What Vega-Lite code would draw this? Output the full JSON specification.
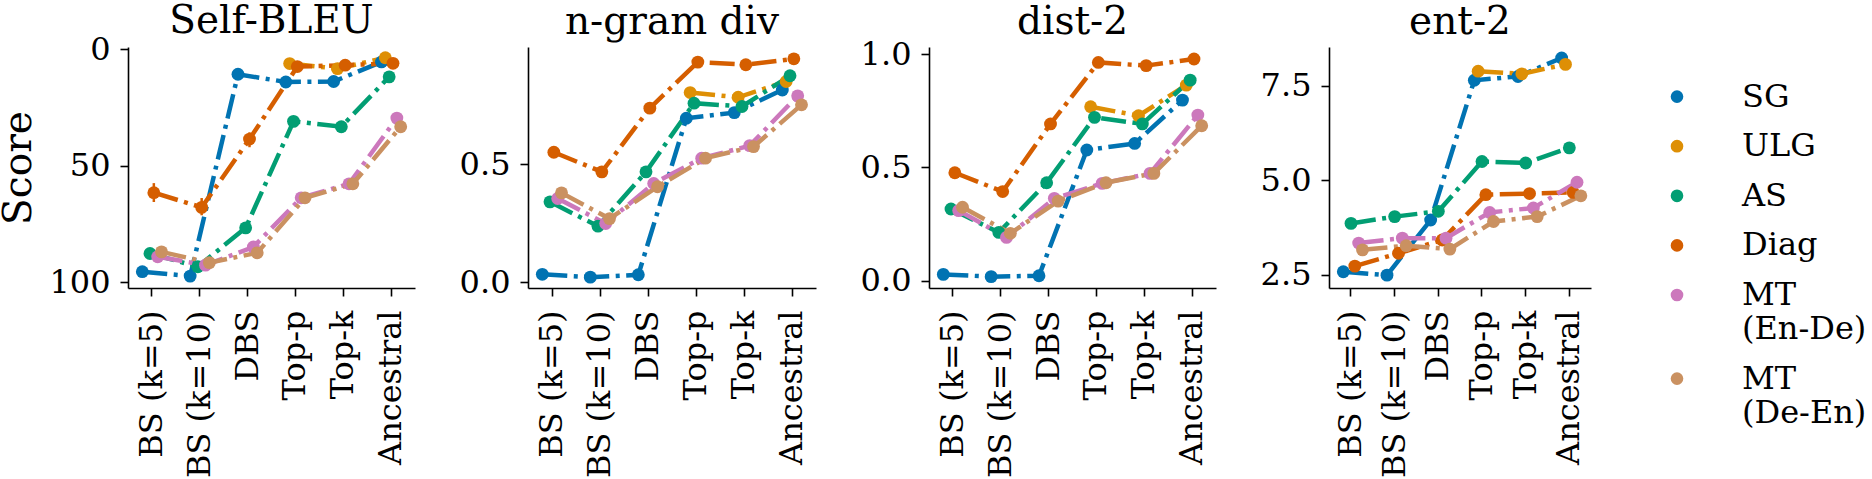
{
  "$schema": "https://vega.github.io/schema/vega-lite/v6.json",
  "autosize": {"type": "none"},
  "padding": {"left": 128, "top": 47, "right": 1744, "bottom": 432},
  "background": "white",
  "config": {
    "view": {"stroke": null},
    "font": "DejaVu Serif",
    "axis": {"labelFont": "DejaVu Serif", "labelFontSize": 32, "labelColor": "black", "domainColor": "black", "tickColor": "black", "domainWidth": 1.6, "tickWidth": 1.6, "tickSize": 8, "grid": false, "titleFont": "DejaVu Serif", "titleFontWeight": "normal", "titleColor": "black", "titleFontSize": 39, "labelPadding": 10},
    "axisX": {"labelAngle": -90, "labelPadding": 14, "title": null},
    "axisY": {"titleAngle": 270, "titlePadding": 10},
    "title": {"font": "DejaVu Serif", "fontSize": 39, "fontWeight": "normal", "offset": 5, "baseline": "alphabetic", "color": "black"},
    "line": {"strokeWidth": 4.5, "strokeDash": [25, 6.5, 4, 6.5], "strokeCap": "butt"},
    "point": {"filled": true, "opacity": 1, "size": 165},
    "legend": {"orient": "none", "legendX": 1533, "legendY": 33.6, "title": null, "labelFont": "DejaVu Serif", "labelFontSize": 32, "labelColor": "black", "labelLineHeight": 38, "symbolType": "circle", "symbolSize": 160, "symbolStrokeWidth": 0, "labelOffset": 49, "rowPadding": 17.6, "padding": 0}
  },
  "datasets": {
    "main": [
      {"m": "Self-BLEU", "model": "SG", "method": "BS (k=5)", "v": 95.4},
      {"m": "Self-BLEU", "model": "SG", "method": "BS (k=10)", "v": 97.3},
      {"m": "Self-BLEU", "model": "SG", "method": "DBS", "v": 10.7},
      {"m": "Self-BLEU", "model": "SG", "method": "Top-p", "v": 14.0},
      {"m": "Self-BLEU", "model": "SG", "method": "Top-k", "v": 13.8},
      {"m": "Self-BLEU", "model": "SG", "method": "Ancestral", "v": 5.4},
      {"m": "Self-BLEU", "model": "ULG", "method": "Top-p", "v": 6.1},
      {"m": "Self-BLEU", "model": "ULG", "method": "Top-k", "v": 8.3},
      {"m": "Self-BLEU", "model": "ULG", "method": "Ancestral", "v": 3.6},
      {"m": "Self-BLEU", "model": "AS", "method": "BS (k=5)", "v": 87.6},
      {"m": "Self-BLEU", "model": "AS", "method": "BS (k=10)", "v": 93.3},
      {"m": "Self-BLEU", "model": "AS", "method": "DBS", "v": 76.6},
      {"m": "Self-BLEU", "model": "AS", "method": "Top-p", "v": 30.9},
      {"m": "Self-BLEU", "model": "AS", "method": "Top-k", "v": 33.2},
      {"m": "Self-BLEU", "model": "AS", "method": "Ancestral", "v": 11.8},
      {"m": "Self-BLEU", "model": "Diag", "method": "BS (k=5)", "v": 61.5},
      {"m": "Self-BLEU", "model": "Diag", "method": "BS (k=10)", "v": 67.8},
      {"m": "Self-BLEU", "model": "Diag", "method": "DBS", "v": 38.5},
      {"m": "Self-BLEU", "model": "Diag", "method": "Top-p", "v": 7.4},
      {"m": "Self-BLEU", "model": "Diag", "method": "Top-k", "v": 6.8},
      {"m": "Self-BLEU", "model": "Diag", "method": "Ancestral", "v": 6.0},
      {"m": "Self-BLEU", "model": "MT (En-De)", "method": "BS (k=5)", "v": 89.0},
      {"m": "Self-BLEU", "model": "MT (En-De)", "method": "BS (k=10)", "v": 92.6},
      {"m": "Self-BLEU", "model": "MT (En-De)", "method": "DBS", "v": 84.8},
      {"m": "Self-BLEU", "model": "MT (En-De)", "method": "Top-p", "v": 63.7},
      {"m": "Self-BLEU", "model": "MT (En-De)", "method": "Top-k", "v": 57.7},
      {"m": "Self-BLEU", "model": "MT (En-De)", "method": "Ancestral", "v": 29.5},
      {"m": "Self-BLEU", "model": "MT (De-En)", "method": "BS (k=5)", "v": 86.9},
      {"m": "Self-BLEU", "model": "MT (De-En)", "method": "BS (k=10)", "v": 91.5},
      {"m": "Self-BLEU", "model": "MT (De-En)", "method": "DBS", "v": 87.3},
      {"m": "Self-BLEU", "model": "MT (De-En)", "method": "Top-p", "v": 63.7},
      {"m": "Self-BLEU", "model": "MT (De-En)", "method": "Top-k", "v": 57.7},
      {"m": "Self-BLEU", "model": "MT (De-En)", "method": "Ancestral", "v": 33.2},

      {"m": "ngram", "model": "SG", "method": "BS (k=5)", "v": 0.033},
      {"m": "ngram", "model": "SG", "method": "BS (k=10)", "v": 0.021},
      {"m": "ngram", "model": "SG", "method": "DBS", "v": 0.031},
      {"m": "ngram", "model": "SG", "method": "Top-p", "v": 0.694},
      {"m": "ngram", "model": "SG", "method": "Top-k", "v": 0.718},
      {"m": "ngram", "model": "SG", "method": "Ancestral", "v": 0.814},
      {"m": "ngram", "model": "ULG", "method": "Top-p", "v": 0.803},
      {"m": "ngram", "model": "ULG", "method": "Top-k", "v": 0.783},
      {"m": "ngram", "model": "ULG", "method": "Ancestral", "v": 0.85},
      {"m": "ngram", "model": "AS", "method": "BS (k=5)", "v": 0.34},
      {"m": "ngram", "model": "AS", "method": "BS (k=10)", "v": 0.237},
      {"m": "ngram", "model": "AS", "method": "DBS", "v": 0.467},
      {"m": "ngram", "model": "AS", "method": "Top-p", "v": 0.758},
      {"m": "ngram", "model": "AS", "method": "Top-k", "v": 0.744},
      {"m": "ngram", "model": "AS", "method": "Ancestral", "v": 0.874},
      {"m": "ngram", "model": "Diag", "method": "BS (k=5)", "v": 0.55},
      {"m": "ngram", "model": "Diag", "method": "BS (k=10)", "v": 0.467},
      {"m": "ngram", "model": "Diag", "method": "DBS", "v": 0.737},
      {"m": "ngram", "model": "Diag", "method": "Top-p", "v": 0.932},
      {"m": "ngram", "model": "Diag", "method": "Top-k", "v": 0.921},
      {"m": "ngram", "model": "Diag", "method": "Ancestral", "v": 0.946},
      {"m": "ngram", "model": "MT (En-De)", "method": "BS (k=5)", "v": 0.354},
      {"m": "ngram", "model": "MT (En-De)", "method": "BS (k=10)", "v": 0.248},
      {"m": "ngram", "model": "MT (En-De)", "method": "DBS", "v": 0.418},
      {"m": "ngram", "model": "MT (En-De)", "method": "Top-p", "v": 0.525},
      {"m": "ngram", "model": "MT (En-De)", "method": "Top-k", "v": 0.578},
      {"m": "ngram", "model": "MT (En-De)", "method": "Ancestral", "v": 0.789},
      {"m": "ngram", "model": "MT (De-En)", "method": "BS (k=5)", "v": 0.378},
      {"m": "ngram", "model": "MT (De-En)", "method": "BS (k=10)", "v": 0.269},
      {"m": "ngram", "model": "MT (De-En)", "method": "DBS", "v": 0.404},
      {"m": "ngram", "model": "MT (De-En)", "method": "Top-p", "v": 0.525},
      {"m": "ngram", "model": "MT (De-En)", "method": "Top-k", "v": 0.574},
      {"m": "ngram", "model": "MT (De-En)", "method": "Ancestral", "v": 0.751},

      {"m": "dist-2", "model": "SG", "method": "BS (k=5)", "v": 0.029},
      {"m": "dist-2", "model": "SG", "method": "BS (k=10)", "v": 0.019},
      {"m": "dist-2", "model": "SG", "method": "DBS", "v": 0.023},
      {"m": "dist-2", "model": "SG", "method": "Top-p", "v": 0.577},
      {"m": "dist-2", "model": "SG", "method": "Top-k", "v": 0.606},
      {"m": "dist-2", "model": "SG", "method": "Ancestral", "v": 0.797},
      {"m": "dist-2", "model": "ULG", "method": "Top-p", "v": 0.768},
      {"m": "dist-2", "model": "ULG", "method": "Top-k", "v": 0.728},
      {"m": "dist-2", "model": "ULG", "method": "Ancestral", "v": 0.863},
      {"m": "dist-2", "model": "AS", "method": "BS (k=5)", "v": 0.317},
      {"m": "dist-2", "model": "AS", "method": "BS (k=10)", "v": 0.214},
      {"m": "dist-2", "model": "AS", "method": "DBS", "v": 0.433},
      {"m": "dist-2", "model": "AS", "method": "Top-p", "v": 0.721},
      {"m": "dist-2", "model": "AS", "method": "Top-k", "v": 0.692},
      {"m": "dist-2", "model": "AS", "method": "Ancestral", "v": 0.885},
      {"m": "dist-2", "model": "Diag", "method": "BS (k=5)", "v": 0.477},
      {"m": "dist-2", "model": "Diag", "method": "BS (k=10)", "v": 0.394},
      {"m": "dist-2", "model": "Diag", "method": "DBS", "v": 0.692},
      {"m": "dist-2", "model": "Diag", "method": "Top-p", "v": 0.963},
      {"m": "dist-2", "model": "Diag", "method": "Top-k", "v": 0.949},
      {"m": "dist-2", "model": "Diag", "method": "Ancestral", "v": 0.978},
      {"m": "dist-2", "model": "MT (En-De)", "method": "BS (k=5)", "v": 0.31},
      {"m": "dist-2", "model": "MT (En-De)", "method": "BS (k=10)", "v": 0.192},
      {"m": "dist-2", "model": "MT (En-De)", "method": "DBS", "v": 0.364},
      {"m": "dist-2", "model": "MT (En-De)", "method": "Top-p", "v": 0.43},
      {"m": "dist-2", "model": "MT (En-De)", "method": "Top-k", "v": 0.474},
      {"m": "dist-2", "model": "MT (En-De)", "method": "Ancestral", "v": 0.731},
      {"m": "dist-2", "model": "MT (De-En)", "method": "BS (k=5)", "v": 0.325},
      {"m": "dist-2", "model": "MT (De-En)", "method": "BS (k=10)", "v": 0.21},
      {"m": "dist-2", "model": "MT (De-En)", "method": "DBS", "v": 0.352},
      {"m": "dist-2", "model": "MT (De-En)", "method": "Top-p", "v": 0.433},
      {"m": "dist-2", "model": "MT (De-En)", "method": "Top-k", "v": 0.474},
      {"m": "dist-2", "model": "MT (De-En)", "method": "Ancestral", "v": 0.684},

      {"m": "ent-2", "model": "SG", "method": "BS (k=5)", "v": 2.58},
      {"m": "ent-2", "model": "SG", "method": "BS (k=10)", "v": 2.49},
      {"m": "ent-2", "model": "SG", "method": "DBS", "v": 3.95},
      {"m": "ent-2", "model": "SG", "method": "Top-p", "v": 7.65},
      {"m": "ent-2", "model": "SG", "method": "Top-k", "v": 7.75},
      {"m": "ent-2", "model": "SG", "method": "Ancestral", "v": 8.24},
      {"m": "ent-2", "model": "ULG", "method": "Top-p", "v": 7.89},
      {"m": "ent-2", "model": "ULG", "method": "Top-k", "v": 7.82},
      {"m": "ent-2", "model": "ULG", "method": "Ancestral", "v": 8.07},
      {"m": "ent-2", "model": "AS", "method": "BS (k=5)", "v": 3.86},
      {"m": "ent-2", "model": "AS", "method": "BS (k=10)", "v": 4.04},
      {"m": "ent-2", "model": "AS", "method": "DBS", "v": 4.18},
      {"m": "ent-2", "model": "AS", "method": "Top-p", "v": 5.5},
      {"m": "ent-2", "model": "AS", "method": "Top-k", "v": 5.46},
      {"m": "ent-2", "model": "AS", "method": "Ancestral", "v": 5.86},
      {"m": "ent-2", "model": "Diag", "method": "BS (k=5)", "v": 2.73},
      {"m": "ent-2", "model": "Diag", "method": "BS (k=10)", "v": 3.07},
      {"m": "ent-2", "model": "Diag", "method": "DBS", "v": 3.42},
      {"m": "ent-2", "model": "Diag", "method": "Top-p", "v": 4.62},
      {"m": "ent-2", "model": "Diag", "method": "Top-k", "v": 4.65},
      {"m": "ent-2", "model": "Diag", "method": "Ancestral", "v": 4.68},
      {"m": "ent-2", "model": "MT (En-De)", "method": "BS (k=5)", "v": 3.34},
      {"m": "ent-2", "model": "MT (En-De)", "method": "BS (k=10)", "v": 3.47},
      {"m": "ent-2", "model": "MT (En-De)", "method": "DBS", "v": 3.47},
      {"m": "ent-2", "model": "MT (En-De)", "method": "Top-p", "v": 4.15},
      {"m": "ent-2", "model": "MT (En-De)", "method": "Top-k", "v": 4.27},
      {"m": "ent-2", "model": "MT (En-De)", "method": "Ancestral", "v": 4.95},
      {"m": "ent-2", "model": "MT (De-En)", "method": "BS (k=5)", "v": 3.16},
      {"m": "ent-2", "model": "MT (De-En)", "method": "BS (k=10)", "v": 3.27},
      {"m": "ent-2", "model": "MT (De-En)", "method": "DBS", "v": 3.18},
      {"m": "ent-2", "model": "MT (De-En)", "method": "Top-p", "v": 3.91},
      {"m": "ent-2", "model": "MT (De-En)", "method": "Top-k", "v": 4.04},
      {"m": "ent-2", "model": "MT (De-En)", "method": "Ancestral", "v": 4.59}
    ],
    "err": [
      {"m": "Self-BLEU", "model": "Diag", "method": "BS (k=5)", "lo": 57.4, "hi": 65.5},
      {"m": "Self-BLEU", "model": "Diag", "method": "BS (k=10)", "lo": 63.8, "hi": 71.2},
      {"m": "Self-BLEU", "model": "Diag", "method": "DBS", "lo": 35.6, "hi": 42.0},
      {"m": "ngram", "model": "Diag", "method": "BS (k=10)", "lo": 0.447, "hi": 0.487},
      {"m": "dist-2", "model": "Diag", "method": "BS (k=10)", "lo": 0.38, "hi": 0.41}
    ]
  },
  "hconcat": [
    {
      "width": 287, "height": 241, "title": {"text": "Self-BLEU", "dy": 13},
      "layer": [
        {"data": {"name": "main"}, "transform": [{"filter": "datum.m == 'Self-BLEU'"}], "mark": {"type": "line"},
         "encoding": {
           "x": {"field": "method", "type": "nominal", "sort": null, "scale": {"type": "band", "paddingInner": 0, "paddingOuter": 0, "domain": ["BS (k=5)", "BS (k=10)", "DBS", "Top-p", "Top-k", "Ancestral"]}},
           "xOffset": {"field": "model", "type": "nominal", "scale": {"type": "point", "padding": 0, "domain": ["SG", "ULG", "AS", "Diag", "MT (En-De)", "MT (De-En)"], "range": [14.32, 33.52]}},
           "y": {"field": "v", "type": "quantitative", "title": "Score", "scale": {"domain": [-1, 102.4], "reverse": true, "nice": false, "zero": false}, "axis": {"values": [0, 50, 100], "format": "d"}},
           "stroke": {"field": "model", "type": "nominal", "legend": null, "scale": {"domain": ["MT (De-En)", "MT (En-De)", "Diag", "AS", "ULG", "SG"], "range": ["#ca9161", "#cc78bc", "#d55e00", "#029e73", "#de8f05", "#0173b2"]}},
           "order": {"value": null}
         }},
        {"data": {"name": "err"}, "transform": [{"filter": "datum.m == 'Self-BLEU'"}], "mark": {"type": "rule", "strokeWidth": 2.5},
         "encoding": {
           "x": {"field": "method", "type": "nominal", "sort": null},
           "xOffset": {"field": "model", "type": "nominal"},
           "y": {"field": "lo", "type": "quantitative"},
           "y2": {"field": "hi"},
           "stroke": {"field": "model", "type": "nominal", "legend": null}
         }},
        {"data": {"name": "main"}, "transform": [{"filter": "datum.m == 'Self-BLEU'"}], "mark": {"type": "point"},
         "encoding": {
           "x": {"field": "method", "type": "nominal", "sort": null},
           "xOffset": {"field": "model", "type": "nominal"},
           "y": {"field": "v", "type": "quantitative"},
           "color": {"field": "model", "type": "nominal", "scale": {"domain": ["SG", "ULG", "AS", "Diag", "MT (En-De)", "MT (De-En)"], "range": ["#0173b2", "#de8f05", "#029e73", "#d55e00", "#cc78bc", "#ca9161"]},
             "legend": {"labelExpr": "datum.label == 'MT (En-De)' ? ['MT', '(En-De)'] : datum.label == 'MT (De-En)' ? ['MT', '(De-En)'] : datum.label",
               "encode": {"labels": {"lineHeight": {"value": 38}, "dy": {"condition": {"test": "indexof(datum.value, 'MT') === 0", "value": -19}, "value": 0}}}}}
         }}
      ]
    },
    {
      "width": 288, "height": 241, "title": "n-gram div",
      "layer": [
        {"data": {"name": "main"}, "transform": [{"filter": "datum.m == 'ngram'"}], "mark": {"type": "line"},
         "encoding": {
           "x": {"field": "method", "type": "nominal", "sort": null, "scale": {"type": "band", "paddingInner": 0, "paddingOuter": 0, "domain": ["BS (k=5)", "BS (k=10)", "DBS", "Top-p", "Top-k", "Ancestral"]}},
           "xOffset": {"field": "model", "type": "nominal", "scale": {"type": "point", "padding": 0, "domain": ["SG", "ULG", "AS", "Diag", "MT (En-De)", "MT (De-En)"], "range": [14.4, 33.6]}},
           "y": {"field": "v", "type": "quantitative", "title": null, "scale": {"domain": [-0.025, 0.996], "nice": false, "zero": false}, "axis": {"values": [0, 0.5], "format": ".1f"}},
           "stroke": {"field": "model", "type": "nominal", "legend": null},
           "order": {"value": null}
         }},
        {"data": {"name": "err"}, "transform": [{"filter": "datum.m == 'ngram'"}], "mark": {"type": "rule", "strokeWidth": 2.5},
         "encoding": {
           "x": {"field": "method", "type": "nominal", "sort": null},
           "xOffset": {"field": "model", "type": "nominal"},
           "y": {"field": "lo", "type": "quantitative"},
           "y2": {"field": "hi"},
           "stroke": {"field": "model", "type": "nominal", "legend": null}
         }},
        {"data": {"name": "main"}, "transform": [{"filter": "datum.m == 'ngram'"}], "mark": {"type": "point"},
         "encoding": {
           "x": {"field": "method", "type": "nominal", "sort": null},
           "xOffset": {"field": "model", "type": "nominal"},
           "y": {"field": "v", "type": "quantitative"},
           "color": {"field": "model", "type": "nominal"}
         }}
      ]
    },
    {
      "width": 287, "height": 241, "title": {"text": "dist-2", "dy": 8.5},
      "layer": [
        {"data": {"name": "main"}, "transform": [{"filter": "datum.m == 'dist-2'"}], "mark": {"type": "line"},
         "encoding": {
           "x": {"field": "method", "type": "nominal", "sort": null, "scale": {"type": "band", "paddingInner": 0, "paddingOuter": 0, "domain": ["BS (k=5)", "BS (k=10)", "DBS", "Top-p", "Top-k", "Ancestral"]}},
           "xOffset": {"field": "model", "type": "nominal", "scale": {"type": "point", "padding": 0, "domain": ["SG", "ULG", "AS", "Diag", "MT (En-De)", "MT (De-En)"], "range": [14.32, 33.52]}},
           "y": {"field": "v", "type": "quantitative", "title": null, "scale": {"domain": [-0.031, 1.031], "nice": false, "zero": false}, "axis": {"values": [0, 0.5, 1], "format": ".1f"}},
           "stroke": {"field": "model", "type": "nominal", "legend": null},
           "order": {"value": null}
         }},
        {"data": {"name": "err"}, "transform": [{"filter": "datum.m == 'dist-2'"}], "mark": {"type": "rule", "strokeWidth": 2.5},
         "encoding": {
           "x": {"field": "method", "type": "nominal", "sort": null},
           "xOffset": {"field": "model", "type": "nominal"},
           "y": {"field": "lo", "type": "quantitative"},
           "y2": {"field": "hi"},
           "stroke": {"field": "model", "type": "nominal", "legend": null}
         }},
        {"data": {"name": "main"}, "transform": [{"filter": "datum.m == 'dist-2'"}], "mark": {"type": "point"},
         "encoding": {
           "x": {"field": "method", "type": "nominal", "sort": null},
           "xOffset": {"field": "model", "type": "nominal"},
           "y": {"field": "v", "type": "quantitative"},
           "color": {"field": "model", "type": "nominal"}
         }}
      ]
    },
    {
      "width": 262, "height": 241, "title": "ent-2",
      "layer": [
        {"data": {"name": "main"}, "transform": [{"filter": "datum.m == 'ent-2'"}], "mark": {"type": "line"},
         "encoding": {
           "x": {"field": "method", "type": "nominal", "sort": null, "scale": {"type": "band", "paddingInner": 0, "paddingOuter": 0, "domain": ["BS (k=5)", "BS (k=10)", "DBS", "Top-p", "Top-k", "Ancestral"]}},
           "xOffset": {"field": "model", "type": "nominal", "scale": {"type": "point", "padding": 0, "domain": ["SG", "ULG", "AS", "Diag", "MT (En-De)", "MT (De-En)"], "range": [13.13, 30.53]}},
           "y": {"field": "v", "type": "quantitative", "title": null, "scale": {"domain": [2.15, 8.53], "nice": false, "zero": false}, "axis": {"values": [2.5, 5, 7.5], "format": ".1f"}},
           "stroke": {"field": "model", "type": "nominal", "legend": null},
           "order": {"value": null}
         }},
        {"data": {"name": "main"}, "transform": [{"filter": "datum.m == 'ent-2'"}], "mark": {"type": "point"},
         "encoding": {
           "x": {"field": "method", "type": "nominal", "sort": null},
           "xOffset": {"field": "model", "type": "nominal"},
           "y": {"field": "v", "type": "quantitative"},
           "color": {"field": "model", "type": "nominal"}
         }}
      ]
    }
  ],
  "spacing": 113,
  "bounds": "flush"
}
